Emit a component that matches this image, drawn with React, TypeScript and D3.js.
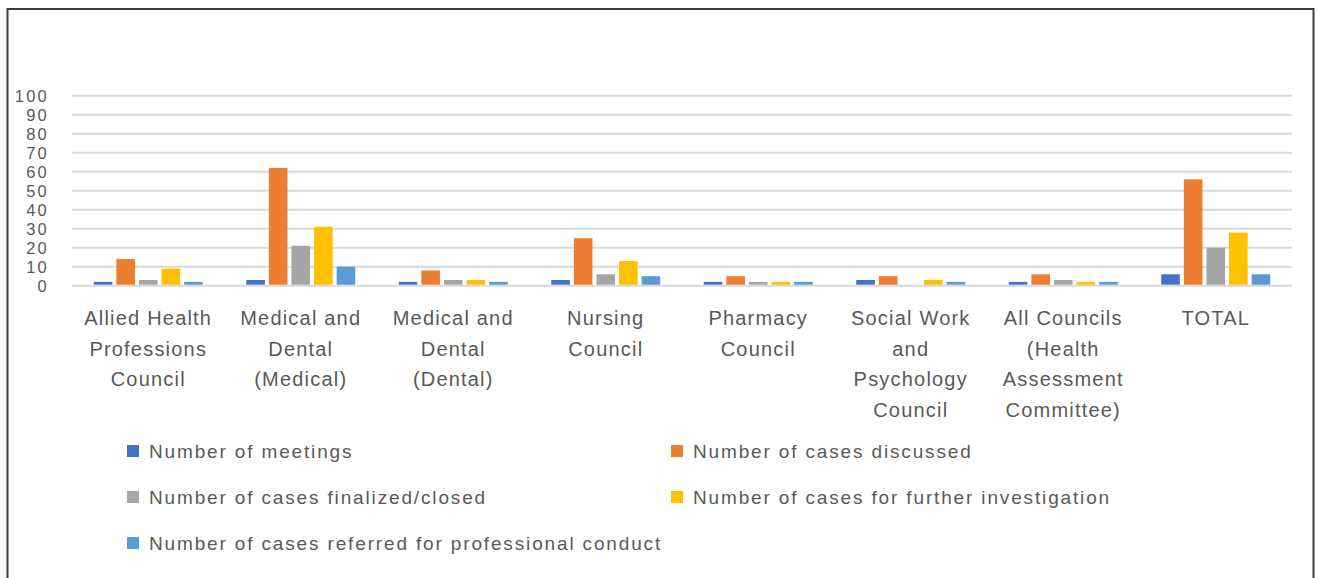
import React from "react";
import * as d3 from "d3";

const categories: string[][] = [
  ["Allied Health", "Professions", "Council"],
  ["Medical and", "Dental", "(Medical)"],
  ["Medical and", "Dental", "(Dental)"],
  ["Nursing", "Council"],
  ["Pharmacy", "Council"],
  ["Social Work", "and", "Psychology", "Council"],
  ["All Councils", "(Health", "Assessment", "Committee)"],
  ["TOTAL"],
];

const seriesNames = [
  "Number of meetings",
  "Number of cases discussed",
  "Number of cases finalized/closed",
  "Number of cases for further investigation",
  "Number of cases referred for professional conduct",
];

const meetings = [2, 3, 2, 3, 2, 3, 2, 6];
const discussed = [14, 62, 8, 25, 5, 5, 6, 56];
const finalized = [3, 21, 3, 6, 2, 0, 3, 20];
const further = [9, 31, 3, 13, 2, 3, 2, 28];
const referred = [2, 10, 2, 5, 2, 2, 2, 6];

const yTicks = [0, 10, 20, 30, 40, 50, 60, 70, 80, 90, 100];

const colors = ["#4472C4", "#ED7D31", "#A5A5A5", "#FFC000", "#5B9BD5"];

export default function App() {
  const series = [meetings, discussed, finalized, further, referred];
  const catIdx = categories.map((_, i) => i);
  const x0 = d3.scaleBand<number>().domain(catIdx).range([72, 1292]).padding(0);
  const x1 = d3.scaleBand<number>().domain(d3.range(5)).range([-56.5, 56.5]).padding(0);
  const y = d3.scaleLinear().domain([0, 100]).range([285.7, 95.7]);
  const barW = x1.bandwidth() - 4;
  const txt = "#595959";
  const font = "'Liberation Sans', Arial, sans-serif";

  const legendPos = [
    { x: 127, y: 451 },
    { x: 671, y: 451 },
    { x: 127, y: 497 },
    { x: 671, y: 497 },
    { x: 127, y: 543 },
  ];

  return (
    <svg
      width={1317}
      height={578}
      style={{ position: "absolute", left: 0, top: 0, background: "#fff" }}
      fontFamily={font}
    >
      <rect x={7.5} y={9} width={1306} height={620} fill="#fff" stroke="#3a3a3a" strokeWidth={2} />
      {yTicks.map((t) => (
        <g key={t}>
          <line x1={72} x2={1292} y1={y(t)} y2={y(t)} stroke="#d9d9d9" strokeWidth={2} />
          <text
            x={49}
            y={y(t)}
            textAnchor="end"
            dominantBaseline="central"
            fontSize={16.5}
            letterSpacing={2.2}
            fill={txt}
          >
            {t}
          </text>
        </g>
      ))}
      {series.map((vals, s) =>
        vals.map((v, i) =>
          v > 0 ? (
            <rect
              key={`${s}-${i}`}
              x={x0(i)! + x0.bandwidth() / 2 + x1(s)! + 2}
              width={barW}
              y={y(v)}
              height={y(0) - y(v) - 1}
              fill={colors[s]}
            />
          ) : null
        )
      )}
      {categories.map((lines, i) => (
        <text
          key={i}
          textAnchor="middle"
          fontSize={20}
          letterSpacing={1.2}
          fill={txt}
        >
          {lines.map((ln, j) => (
            <tspan key={j} x={x0(i)! + x0.bandwidth() / 2} y={325 + j * 30.7}>
              {ln}
            </tspan>
          ))}
        </text>
      ))}
      {seriesNames.map((name, s) => (
        <g key={s}>
          <rect x={legendPos[s].x} y={legendPos[s].y - 6} width={12} height={12} fill={colors[s]} />
          <text
            x={legendPos[s].x + 22}
            y={legendPos[s].y}
            dominantBaseline="central"
            fontSize={19}
            letterSpacing={1.85}
            fill={txt}
          >
            {name}
          </text>
        </g>
      ))}
    </svg>
  );
}
